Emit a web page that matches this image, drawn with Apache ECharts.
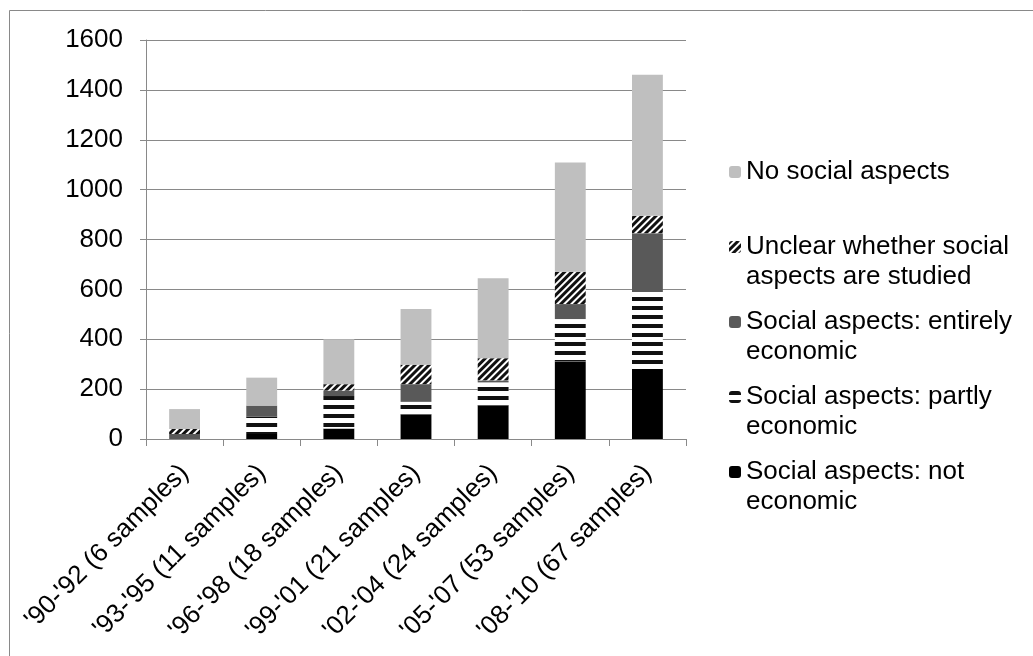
<!DOCTYPE html>
<html>
<head>
<meta charset="utf-8">
<script src="https://cdn.jsdelivr.net/npm/echarts@6/dist/echarts.min.js"></script>
<style>
html,body{margin:0;padding:0;background:#fff;}
#chart{width:1033px;height:656px;}
</style>
</head>
<body>
<div id="chart"></div>
<script>
var categories = ["'90-'92 (6 samples)", "'93-'95 (11 samples)", "'96-'98 (18 samples)", "'99-'01 (21 samples)", "'02-'04 (24 samples)", "'05-'07 (53 samples)", "'08-'10 (67 samples)"];
var notEconomic = [0, 20, 42, 98, 135, 311, 281];
var partlyEconomic = [0, 70, 130, 51, 92, 170, 308];
var entirelyEconomic = [20, 44, 22, 71, 8, 60, 236];
var unclearSocial = [20, 0, 26, 78, 89, 130, 70];
var noSocial = [80, 112, 180, 223, 321, 438, 566];
var seriesNames = ['Social aspects: not economic', 'Social aspects: partly economic', 'Social aspects: entirely economic', 'Unclear whether social aspects are studied', 'No social aspects'];
var legendLines = {
  'No social aspects': ['No social aspects', ''],
  'Unclear whether social aspects are studied': ['Unclear whether social', 'aspects are studied'],
  'Social aspects: entirely economic': ['Social aspects: entirely', 'economic'],
  'Social aspects: partly economic': ['Social aspects: partly', 'economic'],
  'Social aspects: not economic': ['Social aspects: not', 'economic']
};
var yTicks = {min: 0, max: 1600, interval: 200};

var FONT = "'Liberation Sans', Arial, sans-serif";
var FS = 26;
var AXIS_COLOR = '#898989';

var chart = echarts.init(document.getElementById('chart'));

function mkSeries(name, data, color, decal) {
  var s = {
    name: name,
    type: 'bar',
    stack: 'total',
    data: data,
    barWidth: '40%',
    itemStyle: {color: color},
    emphasis: {disabled: true}
  };
  if (decal) s.itemStyle.decal = decal;
  return s;
}

var option = {
  backgroundColor: '#fff',
  animation: false,
  graphic: [{
    type: 'rect',
    shape: {x: 9.5, y: 10.5, width: 1100, height: 700},
    style: {fill: 'none', stroke: '#898989', lineWidth: 1},
    silent: true
  }],
  grid: {left: 146, right: 347, top: 40, bottom: 217, containLabel: false},
  legend: {
    orient: 'vertical',
    left: 729,
    top: 127,
    padding: 0,
    itemGap: -15,
    itemWidth: 12,
    itemHeight: 12,
    selectedMode: false,
    data: seriesNames.slice().reverse(),
    formatter: function (name) {
      var l = legendLines[name];
      return '\n' + l[0] + '\n' + l[1];
    },
    textStyle: {fontFamily: FONT, fontSize: FS, color: '#000', lineHeight: 30}
  },
  xAxis: {
    type: 'category',
    data: categories,
    axisLine: {lineStyle: {color: AXIS_COLOR, width: 1}},
    axisTick: {show: true, length: 7, lineStyle: {color: AXIS_COLOR}},
    axisLabel: {interval: 0, rotate: 45, margin: 30, fontFamily: FONT, fontSize: FS, color: '#000'}
  },
  yAxis: {
    type: 'value',
    min: yTicks.min,
    max: yTicks.max,
    interval: yTicks.interval,
    axisLine: {show: true, lineStyle: {color: AXIS_COLOR, width: 1}},
    axisTick: {show: true, length: 6, lineStyle: {color: AXIS_COLOR}},
    splitLine: {show: true, lineStyle: {color: AXIS_COLOR, width: 1}},
    axisLabel: {margin: 23, fontFamily: FONT, fontSize: FS, color: '#000', formatter: function (v) { return String(v); }}
  },
  series: [
    mkSeries(seriesNames[0], notEconomic, '#000000'),
    mkSeries(seriesNames[1], partlyEconomic, '#ffffff', {
      symbol: 'rect', symbolSize: 1, dashArrayX: [1, 0], dashArrayY: [4, 5], rotation: 0, color: '#111111'
    }),
    mkSeries(seriesNames[2], entirelyEconomic, '#595959'),
    mkSeries(seriesNames[3], unclearSocial, '#ffffff', {
      symbol: 'rect', symbolSize: 1, dashArrayX: [1, 0], dashArrayY: [3, 2], rotation: -Math.PI / 4, color: '#111111'
    }),
    mkSeries(seriesNames[4], noSocial, '#bfbfbf')
  ]
};
chart.setOption(option);
</script>
</body>
</html>
